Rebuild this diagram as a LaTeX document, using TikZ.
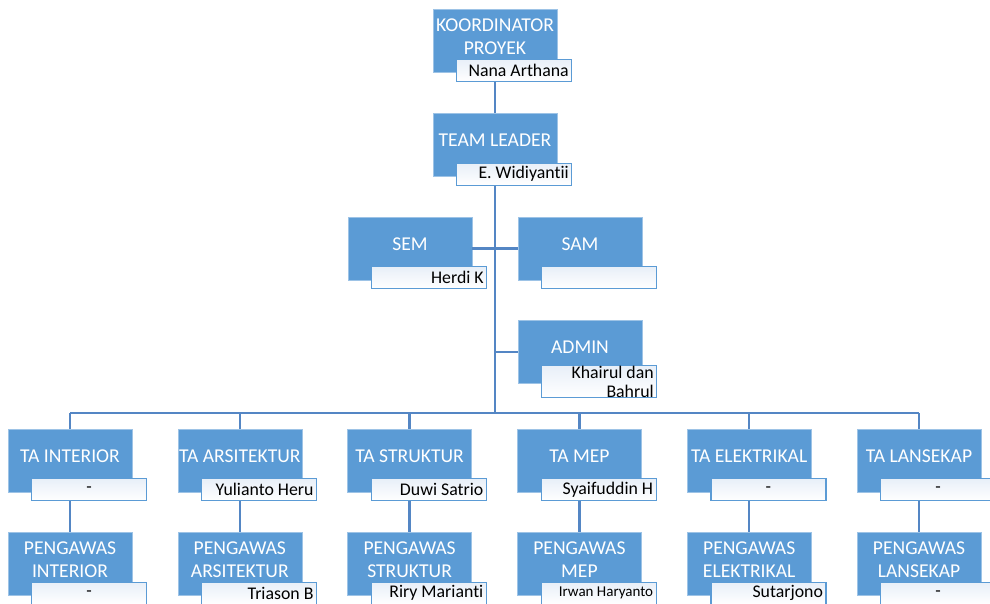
\documentclass[tikz,border=0pt]{standalone}
\usepackage{fontspec}
\setmainfont{Carlito}[Ligatures=NoCommon]
\usetikzlibrary{positioning}

\definecolor{boxblue}{RGB}{91,155,213}
\definecolor{linkblue}{RGB}{84,134,196}
\definecolor{namefill}{RGB}{232,239,248}

\newcommand{\vacant}{\centerline{-}}

\tikzset{
  posbox/.style={rectangle, fill=boxblue, draw=boxblue!60!white, line width=0.6pt,
    minimum width=124pt, minimum height=63pt, inner sep=0pt, text=white,
    font=\fontsize{19.6}{23}\selectfont, align=center, text depth=9pt},
  namebox/.style={rectangle, top color=namefill, bottom color=white, draw=boxblue,
    line width=1.2pt, text width=109pt, minimum height=22pt, inner xsep=3pt,
    inner ysep=0pt, align=flush right, font=\fontsize{17.8}{19}\selectfont,
    anchor=south east, xshift=15pt, yshift=-9pt},
  link/.style={draw=linkblue, line width=2.4pt},
}

\begin{document}
\begin{tikzpicture}[x=1pt, y=-1pt]
  \useasboundingbox (0,0) rectangle (990,603);
  \clip (0,0) rectangle (990,603);

  % top of the chart
  \node[posbox] (koord) at (495,41) {KOORDINATOR\\PROYEK};
  \node[namebox] (koordname) at (koord.south east) {Nana Arthana};
  \node[posbox] (lead) at (495,145) {TEAM LEADER};
  \node[namebox] (leadname) at (lead.south east) {E. Widiyantii};

  % staff
  \node[posbox] (sem) at (410,248.5) {SEM};
  \node[namebox] (semname) at (sem.south east) {Herdi K};
  \node[posbox] (sam) at (580,248.5) {SAM};
  \node[namebox] (samname) at (sam.south east) {};
  \node[posbox] (admin) at (580,352) {ADMIN};
  \node[namebox, yshift=-5pt] (adminname) at (admin.south east) {Khairul dan\\Bahrul};

  \coordinate (bus) at (495,413);
  \draw[link] (koord.south |- koordname.south) -- (lead.north);
  \draw[link] (lead.south |- leadname.south) -- (bus);
  \draw[link] (sem.east) -- (sam.west);
  \draw[link] (admin.west) -- (admin.west -| lead.south);

  % tenaga ahli and pengawas
  \foreach \i/\ta/\taname/\pg/\pgname in {
      0/TA INTERIOR/\vacant/PENGAWAS\\INTERIOR/\vacant,
      1/TA ARSITEKTUR/Yulianto Heru/PENGAWAS\\ARSITEKTUR/Triason B,
      2/TA STRUKTUR/Duwi Satrio/PENGAWAS\\STRUKTUR/Riry Marianti,
      3/TA MEP/Syaifuddin H/PENGAWAS\\MEP/{\fontsize{15}{16}\selectfont Irwan Haryanto},
      4/TA ELEKTRIKAL/\vacant/PENGAWAS\\ELEKTRIKAL/Sutarjono,
      5/TA LANSEKAP/\vacant/PENGAWAS\\LANSEKAP/\vacant}
  {
    \node[posbox] (ta\i) at (70+169.8*\i,460.5) {\ta};
    \node[namebox] (tan\i) at (ta\i.south east) {\taname};
    \node[posbox] (pg\i) at (70+169.8*\i,564) {\pg};
    \node[namebox] (pgn\i) at (pg\i.south east) {\pgname};
    \draw[link] (ta\i.north) -- (ta\i.north |- bus);
    \draw[link] (ta\i.south |- tan\i.south) -- (pg\i.north);
  }
  \draw[link] (ta0.north |- bus) -- (ta5.north |- bus);

\end{tikzpicture}
\end{document}
